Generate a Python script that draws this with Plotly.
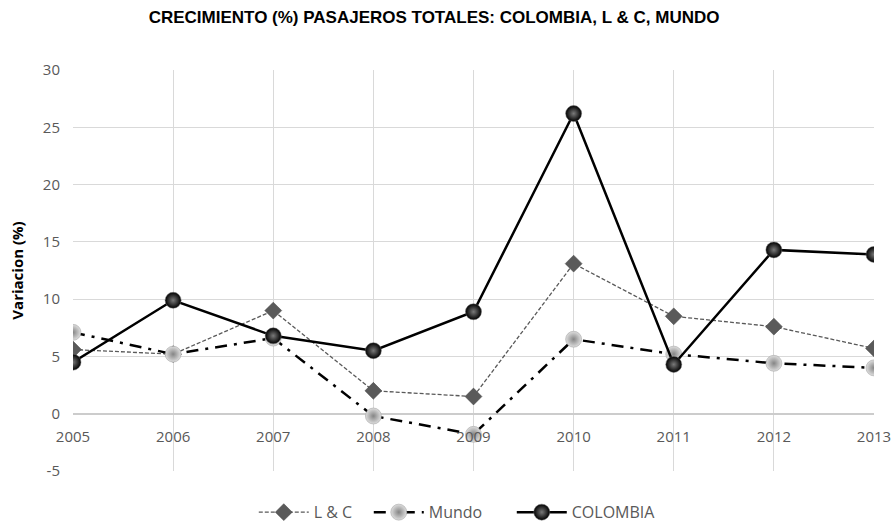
import plotly.graph_objects as go

years = [2005, 2006, 2007, 2008, 2009, 2010, 2011, 2012, 2013]
lyc = [5.6, 5.2, 9.0, 2.0, 1.5, 13.1, 8.5, 7.6, 5.7]
mundo = [7.1, 5.2, 6.6, -0.2, -1.8, 6.5, 5.2, 4.4, 4.0]
colombia = [4.5, 9.9, 6.8, 5.5, 8.9, 26.2, 4.3, 14.3, 13.9]
y_ticks = [-5, 0, 5, 10, 15, 20, 25, 30]
y_ticktext = ["-5", "0", "5", "10", "15", "20", "25", "30"]

Y_MIN, Y_MAX = -5, 30
GRID = "#d9d9d9"
TICK = "#595959"

fig = go.Figure()
fig.add_trace(go.Scatter(
    x=years, y=lyc, name="L & C", mode="lines+markers", legendwidth=50,
    line=dict(color="#595959", width=1.3, dash="4px,2px"),
    marker=dict(symbol="diamond", size=13, color="#5a5a5a",
                line=dict(color="#404040", width=0.5)),
))
fig.add_trace(go.Scatter(
    x=years, y=mundo, name="Mundo", mode="lines+markers", legendwidth=78,
    line=dict(color="black", width=2.5, dash="12px,7px,3px,7px"),
    marker=dict(symbol="circle", size=16, color="#dedede",
                gradient=dict(type="radial", color="#858585"),
                line=dict(color="#9a9a9a", width=0.5)),
))
fig.add_trace(go.Scatter(
    x=years, y=colombia, name="COLOMBIA", mode="lines+markers", legendwidth=86,
    line=dict(color="black", width=2.5),
    marker=dict(symbol="circle", size=16, color="#000000",
                gradient=dict(type="radial", color="#7a7a7a"),
                line=dict(color="#6f6f6f", width=0.5)),
))

fig.update_layout(
    width=895,
    height=527,
    margin=dict(l=73, r=21, t=70, b=56),
    plot_bgcolor="white",
    paper_bgcolor="white",
    font=dict(family="Open Sans, sans-serif", color=TICK),
    title=dict(
        text="<b>CRECIMIENTO (%) PASAJEROS TOTALES: COLOMBIA, L & C, MUNDO</b>",
        font=dict(size=17, color="black", family="Liberation Sans, sans-serif"),
        x=0.485, xanchor="center", y=0.968, yanchor="middle",
    ),
    xaxis=dict(
        range=[2005, 2013], tickvals=years, ticktext=[str(y) for y in years],
        showgrid=True, gridcolor=GRID, gridwidth=1,
        zeroline=False, showline=False, ticks="", ticklabelstandoff=12,
        ticklabeloverflow="allow",
        anchor="free", position=(0 - Y_MIN) / (Y_MAX - Y_MIN),
        tickfont=dict(size=15, color=TICK),
        automargin=False,
    ),
    yaxis=dict(
        range=[Y_MIN, Y_MAX], tickvals=y_ticks, ticktext=y_ticktext,
        showgrid=True, gridcolor=GRID, gridwidth=1,
        zeroline=True, zerolinecolor="#cccccc", zerolinewidth=1.5,
        showline=False, ticks="", ticklabelstandoff=12,
        tickfont=dict(size=15, color=TICK),
        automargin=False,
        title=dict(text="<b>Variacion (%)</b>",
                   font=dict(size=15, color="black")),
    ),
    legend=dict(
        orientation="h", x=0.481, xanchor="center",
        yref="container", y=0.028, yanchor="middle",
        font=dict(size=16, color=TICK),
        itemwidth=50, traceorder="normal",
    ),
)

# the page body has a default 8px margin; drop it so the figure fills the window
fig.write_html(
    "out.html",
    config={"displayModeBar": False},
    post_script="document.body.style.margin='0';"
                "document.body.style.overflow='hidden';"
                "document.documentElement.style.overflow='hidden';",
)
